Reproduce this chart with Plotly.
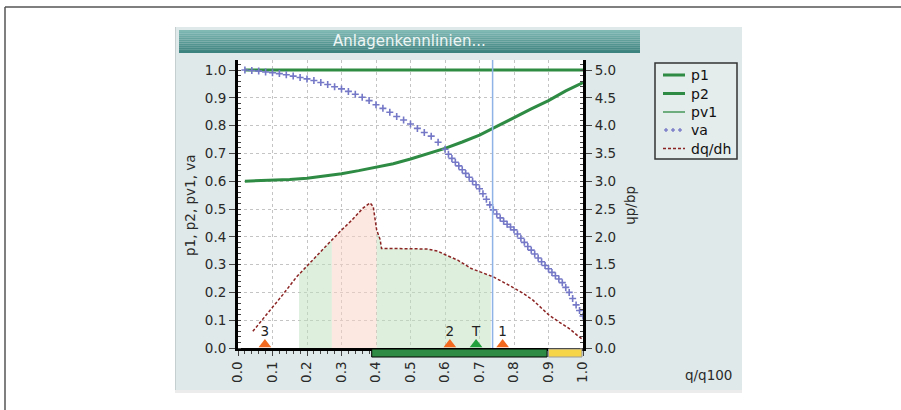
import numpy as np
import plotly.graph_objects as go

# ---------------- data ----------------
p1_x = [0.02, 1.0]
p1_y = [1.0, 1.0]

pv1_x = [0.02, 1.0]
pv1_y = [1.0, 1.0]

p2_x = [0.02, 0.05, 0.10, 0.15, 0.20, 0.25, 0.30, 0.35, 0.40, 0.45, 0.50,
        0.55, 0.60, 0.65, 0.70, 0.75, 0.80, 0.85, 0.90, 0.95, 1.00]
p2_y = [0.600, 0.601, 0.603, 0.606, 0.611, 0.618, 0.627, 0.638, 0.650, 0.663, 0.680,
        0.698, 0.718, 0.741, 0.766, 0.797, 0.830, 0.860, 0.890, 0.925, 0.955]

va_x = [0.02, 0.04, 0.06, 0.08, 0.10, 0.12, 0.14, 0.16, 0.18, 0.20,
        0.22, 0.24, 0.26, 0.28, 0.30, 0.32, 0.34, 0.36, 0.38, 0.40,
        0.42, 0.44, 0.46, 0.48, 0.50, 0.52, 0.54, 0.56, 0.58, 0.60,
        0.61, 0.62, 0.63, 0.64, 0.65, 0.66, 0.67, 0.68, 0.69, 0.70,
        0.71, 0.72, 0.73, 0.74, 0.75, 0.76, 0.77, 0.78, 0.79, 0.80,
        0.81, 0.82, 0.83, 0.84, 0.85, 0.86, 0.87, 0.88, 0.89, 0.90,
        0.91, 0.92, 0.93, 0.94, 0.95, 0.96, 0.97, 0.98, 0.99, 1.00]
va_y = [1.000, 0.998, 0.996, 0.993, 0.990, 0.987, 0.983, 0.978, 0.973, 0.968,
        0.962, 0.955, 0.948, 0.940, 0.932, 0.923, 0.913, 0.902, 0.890, 0.875,
        0.862, 0.848, 0.833, 0.820, 0.806, 0.790, 0.775, 0.762, 0.740, 0.715,
        0.697, 0.682, 0.668, 0.655, 0.641, 0.628, 0.614, 0.600, 0.587, 0.573,
        0.555, 0.535, 0.515, 0.497, 0.482, 0.468, 0.456, 0.445, 0.435, 0.425,
        0.410, 0.395, 0.380, 0.365, 0.352, 0.338, 0.324, 0.310, 0.297, 0.285,
        0.272, 0.260, 0.248, 0.235, 0.218, 0.200, 0.178, 0.155, 0.135, 0.115]

dq_x = [0.043, 0.07, 0.10, 0.13, 0.17, 0.20, 0.23, 0.267, 0.30, 0.33, 0.363,
        0.383, 0.392, 0.402, 0.412, 0.416, 0.45, 0.50, 0.55, 0.565, 0.58,
        0.596, 0.637, 0.676, 0.74, 0.785, 0.83, 0.855, 0.88, 0.90, 0.93,
        0.96, 0.985, 1.00]
dq_y = [0.30, 0.50, 0.73, 0.96, 1.28, 1.48, 1.67, 1.91, 2.12, 2.30, 2.52,
        2.61, 2.54, 2.12, 1.95, 1.79, 1.79, 1.79, 1.78, 1.76, 1.74,
        1.69, 1.58, 1.43, 1.28, 1.13, 0.97, 0.86, 0.72, 0.60, 0.47,
        0.35, 0.22, 0.15]

# shaded operating zones (x-start, x-end, kind)
zone_start = [0.177, 0.272, 0.402]
zone_end = [0.272, 0.402, 0.733]
zone_kind = ["green", "pink", "green"]

# operating point markers (drawn against the right axis, dq/dh units)
mk_x = [0.078, 0.614, 0.690, 0.767]
mk_label = ["3", "2", "T", "1"]
mk_kind = ["orange", "orange", "green", "orange"]

# vertical cursor
cursor_x = 0.738

# bottom range bars
bar_green = [0.3875, 0.896]
bar_yellow = [0.900, 0.997]

x_ticks = [round(0.1 * i, 1) for i in range(11)]

legend_names = ["p1", "p2", "pv1", "va", "dq/dh"]

# ---------------- style ----------------
FONT = "DejaVu Sans"
TXT = "#2a2a2a"
GREEN = "#2e8b43"
VA_COL = "#7478c6"
DQ_COL = "#8b2323"
PANEL = "#dfe9e9"

# pixel geometry helpers (plot area 238..583 x 60..348)
L, R, T, B = 238, 583, 60, 348
W, H = R - L, B - T


def pxx(p):
    return (p - L) / W


def pxy(p):
    return (B - p) / H


fig = go.Figure()

# fills under dq/dh
fill_cols = {"green": "rgba(190,223,190,0.5)", "pink": "rgba(250,210,195,0.5)"}
for a, b, k in zip(zone_start, zone_end, zone_kind):
    xs = [a] + [x for x in dq_x if a < x < b] + [b]
    ys = list(np.interp(xs, dq_x, dq_y))
    fig.add_trace(go.Scatter(x=xs, y=ys, yaxis="y2", mode="lines", fill="tozeroy",
                             fillcolor=fill_cols[k], line=dict(width=0),
                             showlegend=False, hoverinfo="skip"))

fig.add_trace(go.Scatter(x=p1_x, y=p1_y, name="p1", mode="lines",
                         line=dict(color=GREEN, width=3), showlegend=False))
fig.add_trace(go.Scatter(x=p2_x, y=p2_y, name="p2", mode="lines",
                         line=dict(color=GREEN, width=3), showlegend=False))
fig.add_trace(go.Scatter(x=pv1_x, y=pv1_y, name="pv1", mode="lines",
                         line=dict(color=GREEN, width=1.2), showlegend=False))
fig.add_trace(go.Scatter(x=va_x, y=va_y, name="va", mode="markers",
                         marker=dict(symbol="cross-thin", size=5, color=VA_COL,
                                     line=dict(width=1.6, color=VA_COL)),
                         showlegend=False))
fig.add_trace(go.Scatter(x=dq_x, y=dq_y, name="dq/dh", mode="lines", yaxis="y2",
                         line=dict(color=DQ_COL, width=1.5, dash="3px,2px"),
                         showlegend=False))

# markers (on y2 so that they sit above the shaded zones)
mk_cols = {"orange": "#f26a1f", "green": "#22a03c"}
fig.add_trace(go.Scatter(x=mk_x, y=[0.065] * len(mk_x), yaxis="y2", mode="markers",
                         marker=dict(symbol="triangle-up", size=11,
                                     color=[mk_cols[k] for k in mk_kind],
                                     line=dict(width=0)),
                         showlegend=False, hoverinfo="skip"))
fig.add_trace(go.Scatter(x=mk_x, y=[0.28] * len(mk_x), yaxis="y2", mode="text", text=mk_label,
                         textfont=dict(family=FONT, size=13.5, color="#222"),
                         showlegend=False, hoverinfo="skip"))

shapes = []
# outer frame
shapes.append(dict(type="line", xref="paper", yref="paper", x0=pxx(5), x1=pxx(901),
                   y0=pxy(7), y1=pxy(7), line=dict(color="#555", width=1.5), layer="below"))
shapes.append(dict(type="line", xref="paper", yref="paper", x0=pxx(5), x1=pxx(5),
                   y0=pxy(7), y1=pxy(410), line=dict(color="#555", width=1.5), layer="below"))
# panel
shapes.append(dict(type="rect", xref="paper", yref="paper", x0=pxx(175), x1=pxx(742),
                   y0=pxy(390), y1=pxy(393), fillcolor="#ececec", line=dict(width=0), layer="below"))
shapes.append(dict(type="rect", xref="paper", yref="paper", x0=pxx(175), x1=pxx(742),
                   y0=pxy(390), y1=pxy(27), fillcolor=PANEL, line=dict(width=0), layer="below"))
shapes.append(dict(type="line", xref="paper", yref="paper", x0=pxx(175.5), x1=pxx(175.5),
                   y0=pxy(390), y1=pxy(27), line=dict(color="#c6cfcf", width=1), layer="below"))
# title bar gradient
top_c = np.array([128, 184, 180])
bot_c = np.array([60, 130, 126])
n = 12
y_top, y_bot = 30, 53
for i in range(n):
    c = top_c + (bot_c - top_c) * i / (n - 1)
    ya = y_top + (y_bot - y_top) * i / n
    yb = y_top + (y_bot - y_top) * (i + 1) / n
    shapes.append(dict(type="rect", xref="paper", yref="paper", x0=pxx(179), x1=pxx(640),
                       y0=pxy(yb), y1=pxy(ya),
                       fillcolor="rgb(%d,%d,%d)" % tuple(c.astype(int)),
                       line=dict(width=0), layer="below"))
# white plot area
shapes.append(dict(type="rect", xref="paper", yref="paper", x0=0, x1=1, y0=0, y1=1,
                   fillcolor="white", line=dict(width=0), layer="below"))
# cursor
shapes.append(dict(type="line", xref="x", yref="paper", x0=cursor_x, x1=cursor_x,
                   y0=0, y1=1, line=dict(color="#8fb3e6", width=1.5)))
# bottom bars
shapes.append(dict(type="rect", xref="x", yref="paper", x0=bar_green[0], x1=bar_green[1],
                   y0=pxy(357), y1=pxy(349), fillcolor="#2e8b43",
                   line=dict(color="black", width=1)))
shapes.append(dict(type="rect", xref="x", yref="paper", x0=bar_yellow[0], x1=bar_yellow[1],
                   y0=pxy(357), y1=pxy(349), fillcolor="#f7d548",
                   line=dict(color="#9a9a9a", width=1)))

annotations = [
    dict(text="Anlagenkennlinien...", xref="paper", yref="paper", x=pxx(409.5), y=pxy(41.5),
         showarrow=False, font=dict(family=FONT, size=15, color="#eef6f5"),
         xanchor="center", yanchor="middle"),
    dict(text="p1, p2, pv1, va", xref="paper", yref="paper", x=pxx(190), y=pxy(206),
         showarrow=False, textangle=-90, font=dict(family=FONT, size=13.5, color=TXT),
         xanchor="center", yanchor="middle"),
    dict(text="dq/dh", xref="paper", yref="paper", x=pxx(632), y=pxy(205),
         showarrow=False, textangle=90, font=dict(family=FONT, size=13.5, color=TXT),
         xanchor="center", yanchor="middle"),
    dict(text="q/q100", xref="paper", yref="paper", x=pxx(734), y=pxy(375),
         showarrow=False, font=dict(family=FONT, size=13.5, color=TXT),
         xanchor="right", yanchor="middle"),
]

# ----- legend (drawn manually to match the original box) -----
lg_x0, lg_x1, lg_y0, lg_y1 = 655, 737, 63, 159
shapes.append(dict(type="rect", xref="paper", yref="paper", x0=pxx(lg_x0), x1=pxx(lg_x1),
                   y0=pxy(lg_y1), y1=pxy(lg_y0), fillcolor="#e4ecec",
                   line=dict(color="#333", width=1.5)))
row_y = [75, 93.5, 112, 130, 148.5]
sym_a, sym_b, txt_x = 663, 685, 689
legend_styles = [
    dict(kind="line", color=GREEN, width=3),
    dict(kind="line", color=GREEN, width=3),
    dict(kind="line", color=GREEN, width=1.3),
    dict(kind="cross", color=VA_COL),
    dict(kind="dash", color=DQ_COL),
]
for name, yy, st in zip(legend_names, row_y, legend_styles):
    if st["kind"] == "line":
        shapes.append(dict(type="line", xref="paper", yref="paper", x0=pxx(sym_a), x1=pxx(sym_b),
                           y0=pxy(yy), y1=pxy(yy), line=dict(color=st["color"], width=st["width"])))
    elif st["kind"] == "dash":
        shapes.append(dict(type="line", xref="paper", yref="paper", x0=pxx(sym_a), x1=pxx(sym_b),
                           y0=pxy(yy), y1=pxy(yy),
                           line=dict(color=st["color"], width=1.5, dash="3px,2px")))
    else:
        for cx in (666, 673, 680):
            shapes.append(dict(type="line", xref="paper", yref="paper", x0=pxx(cx - 2), x1=pxx(cx + 2),
                               y0=pxy(yy), y1=pxy(yy), line=dict(color=st["color"], width=1.3)))
            shapes.append(dict(type="line", xref="paper", yref="paper", x0=pxx(cx), x1=pxx(cx),
                               y0=pxy(yy - 2), y1=pxy(yy + 2), line=dict(color=st["color"], width=1.3)))
    annotations.append(dict(text=name, xref="paper", yref="paper", x=pxx(txt_x), y=pxy(yy),
                            showarrow=False, xanchor="left", yanchor="middle",
                            font=dict(family=FONT, size=14, color="#111")))

fig.update_layout(
    width=901, height=410,
    margin=dict(l=L, r=901 - R, t=T, b=410 - B, pad=0),
    paper_bgcolor="white", plot_bgcolor="rgba(0,0,0,0)",
    font=dict(family=FONT, size=13.5, color=TXT),
    showlegend=False,
    shapes=shapes, annotations=annotations,
    xaxis=dict(range=[0, 1], tickvals=x_ticks, tickformat=".1f", tickangle=-90,
               showline=True, linecolor="black", linewidth=3,
               ticks="outside", ticklen=5, tickcolor="#444",
               minor=dict(dtick=0.02, ticks="outside", ticklen=3, tickcolor="#444", showgrid=False),
               showgrid=True, gridcolor="#c4c4c4", griddash="dot", gridwidth=1,
               zeroline=False, fixedrange=True),
    yaxis=dict(range=[0, H / 278], dtick=0.1, tick0=0, tickformat=".1f",
               showline=True, linecolor="black", linewidth=3,
               ticks="outside", ticklen=6, tickcolor="#444",
               minor=dict(dtick=0.02, ticks="inside", ticklen=3, tickcolor="#444", showgrid=False),
               showgrid=True, gridcolor="#c4c4c4", griddash="dot", gridwidth=1,
               zeroline=False, fixedrange=True),
    yaxis2=dict(range=[0, 5 * H / 278], dtick=0.5, tick0=0, tickformat=".1f",
                overlaying="y", side="right",
                showline=True, linecolor="black", linewidth=3,
                ticks="outside", ticklen=6, tickcolor="#444",
                minor=dict(dtick=0.1, ticks="inside", ticklen=3, tickcolor="#444", showgrid=False),
                showgrid=False, zeroline=False, fixedrange=True),
)

fig.write_html("out.html", config={"displayModeBar": False},
               post_script="document.body.style.margin='0';document.body.style.overflow='hidden';")
